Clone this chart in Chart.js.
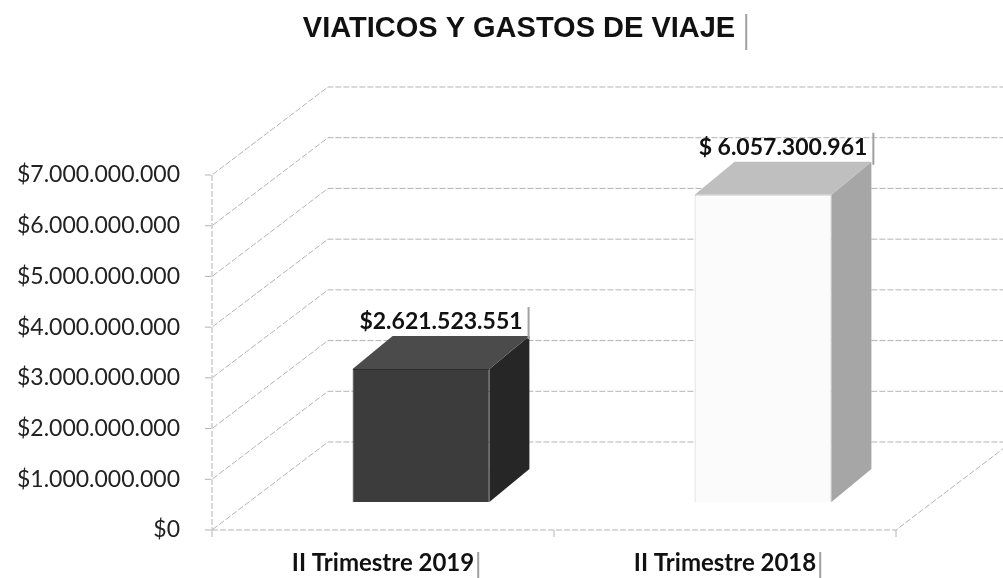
<!DOCTYPE html>
<html>
<head>
<meta charset="utf-8">
<script src="https://cdn.jsdelivr.net/npm/chart.js@4.4.1/dist/chart.umd.min.js"></script>
<style>
  html, body { margin: 0; padding: 0; background: #fff; }
  #wrap { width: 1003px; height: 578px; }
</style>
</head>
<body>
<div id="wrap"><canvas id="myChart" width="1003" height="578"></canvas></div>
<script>
var title = 'VIATICOS Y GASTOS DE VIAJE';
var categories = ['II Trimestre 2019', 'II Trimestre 2018'];
var values = [2621523551, 6057300961];
var valueLabels = ['$2.621.523.551', '$ 6.057.300.961'];
var yTickLabels = ['$0', '$1.000.000.000', '$2.000.000.000', '$3.000.000.000',
                   '$4.000.000.000', '$5.000.000.000', '$6.000.000.000', '$7.000.000.000'];

var frontColors = ['#3c3c3c', '#fbfbfb'];
var sideColors = ['#262626', '#a6a6a6'];
var topColors = ['#4b4b4b', '#bfbfbf'];
var edgeColors = ['#2c2c2c', '#cdcdcd'];

// 3d look: back wall offset, bar shift into the floor, bar depth
var WALL = { x: 116, y: -88 };
var SHIFT = { x: 38, y: -28 };
var DEPTH = { x: 40, y: -33 };

function boxEdge(ctx, x, y1, y2) {
   ctx.save();
   ctx.strokeStyle = '#a0a0a0';
   ctx.lineWidth = 2;
   ctx.beginPath();
   ctx.moveTo(x, y1);
   ctx.lineTo(x, y2);
   ctx.stroke();
   ctx.restore();
}

var chart3d = {
   id: 'chart3d',
   beforeDatasetsDraw: function(chart) {
      var ctx = chart.ctx;
      var a = chart.chartArea;
      var ys = chart.scales.y;
      ctx.save();
      ctx.strokeStyle = '#b3b3b3';
      ctx.lineWidth = 1;
      ctx.setLineDash([6, 2]);
      // back wall grid + diagonals
      ys.ticks.forEach(function(t) {
         var py = ys.getPixelForValue(t.value);
         ctx.beginPath();
         ctx.moveTo(a.left - 7, py);
         ctx.lineTo(a.left, py);
         ctx.lineTo(a.left + WALL.x, py + WALL.y);
         ctx.lineTo(chart.width, py + WALL.y);
         ctx.stroke();
      });
      // front axis
      ctx.beginPath();
      ctx.moveTo(a.left, ys.getPixelForValue(ys.max));
      ctx.lineTo(a.left, a.bottom);
      ctx.stroke();
      // floor
      ctx.beginPath();
      ctx.moveTo(a.left, a.bottom);
      ctx.lineTo(a.right, a.bottom);
      ctx.lineTo(a.right + WALL.x, a.bottom + WALL.y);
      ctx.stroke();
      ctx.setLineDash([]);
      var mid = (a.left + a.right) / 2;
      [a.left, mid, a.right].forEach(function(x) {
         ctx.beginPath();
         ctx.moveTo(x, a.bottom);
         ctx.lineTo(x, a.bottom + 7);
         ctx.stroke();
      });
      ctx.restore();
      ctx.save();
      ctx.translate(SHIFT.x, SHIFT.y);
   },
   afterDatasetsDraw: function(chart) {
      var ctx = chart.ctx;
      var meta = chart.getDatasetMeta(0);
      meta.data.forEach(function(bar, i) {
         var p = bar.getProps(['x', 'y', 'base', 'width'], true);
         var l = p.x - p.width / 2, r = p.x + p.width / 2;
         ctx.fillStyle = sideColors[i];
         ctx.beginPath();
         ctx.moveTo(r, p.y);
         ctx.lineTo(r + DEPTH.x, p.y + DEPTH.y);
         ctx.lineTo(r + DEPTH.x, p.base + DEPTH.y);
         ctx.lineTo(r, p.base);
         ctx.closePath();
         ctx.fill();
         ctx.fillStyle = topColors[i];
         ctx.beginPath();
         ctx.moveTo(l, p.y);
         ctx.lineTo(l + DEPTH.x, p.y + DEPTH.y);
         ctx.lineTo(r + DEPTH.x, p.y + DEPTH.y);
         ctx.lineTo(r, p.y);
         ctx.closePath();
         ctx.fill();
      });
      ctx.restore();

      // value labels above the bars
      ctx.save();
      ctx.font = 'bold 23px Lato';
      ctx.fillStyle = '#111';
      ctx.textAlign = 'center';
      ctx.textBaseline = 'alphabetic';
      meta.data.forEach(function(bar, i) {
         var p = bar.getProps(['x', 'y'], true);
         var cx = p.x + SHIFT.x + 20;
         var by = p.y + SHIFT.y - 40;
         ctx.fillText(valueLabels[i], cx, by);
         var w = ctx.measureText(valueLabels[i]).width;
         boxEdge(ctx, cx + w / 2 + 6, by - 22, by + 10);
      });
      ctx.restore();
   },
   afterDraw: function(chart) {
      var ctx = chart.ctx;
      ctx.save();
      ctx.font = 'bold 29px "Liberation Sans"';
      ctx.fillStyle = '#111';
      ctx.textAlign = 'center';
      ctx.textBaseline = 'middle';
      ctx.fillText(title, 519, 29);
      var tw = ctx.measureText(title).width;
      boxEdge(ctx, 519 + tw / 2 + 11, 14, 50);
      ctx.font = 'bold 24px Lato';
      var xs = chart.scales.x;
      categories.forEach(function(c, i) {
         var x = xs.getPixelForValue(i);
         var w = ctx.measureText(c).width;
         boxEdge(ctx, x + w / 2 + 4, 552, 578);
      });
      ctx.restore();
   }
};

var ctx = document.getElementById('myChart').getContext('2d');
var chart = new Chart(ctx, {
   type: 'bar',
   data: {
      labels: categories,
      datasets: [{
         data: values,
         backgroundColor: frontColors,
         borderColor: edgeColors,
         borderWidth: 1,
         barPercentage: 0.4,
         categoryPercentage: 1,
         clip: false
      }]
   },
   options: {
      responsive: false,
      animation: false,
      layout: { padding: { left: 0, right: 107, top: 175, bottom: 0 } },
      plugins: {
         legend: { display: false },
         tooltip: { enabled: false },
         title: { display: false }
      },
      scales: {
         x: {
            grid: { display: false, drawTicks: false },
            border: { display: false },
            ticks: {
               color: '#111',
               font: { family: 'Lato', size: 24, weight: 'bold' },
               padding: 19,
               maxRotation: 0
            },
            afterFit: function(scale) { scale.height = 48; }
         },
         y: {
            min: 0,
            max: 7000000000,
            grid: { display: false, drawTicks: false },
            border: { display: false },
            ticks: {
               stepSize: 1000000000,
               color: '#222',
               font: { family: 'Lato', size: 23 },
               padding: 32,
               callback: function(value, index) { return yTickLabels[index]; }
            },
            afterFit: function(scale) { scale.width = 212; }
         }
      }
   },
   plugins: [chart3d]
});
</script>
</body>
</html>
